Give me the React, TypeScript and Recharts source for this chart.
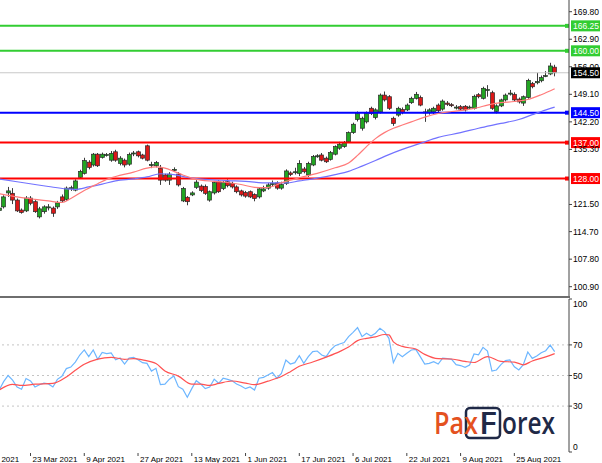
import React from "react";
import {
  ComposedChart,
  Bar,
  Line,
  XAxis,
  YAxis,
  ReferenceLine,
} from "recharts";

// daily bars, index 0 = 5 Mar 2021 (first visible bar is index 5)
const firstBar = 5;

const opens = [
  120.0, 120.9, 124.4, 124.3, 122.6, 120.1, 119.9, 123.1, 122.2, 118.4,
  119.7, 120.7, 120.6, 120.9, 123.4, 122.8, 125.5, 125.1, 128.3, 129.3,
  132.1, 131.4, 134.1, 133.3, 133.9, 132.6, 134.7, 131.8, 132.6, 131.6,
  134.3, 134.7, 133.9, 136.2, 131.3, 131.2, 130.6, 128.9, 127.6, 130.1,
  129.1, 122.4, 123.3, 123.9, 125.8, 126.1, 126.0, 122.6, 124.4, 127.2,
  125.5, 127.2, 126.8, 125.9, 124.9, 124.5, 124.7, 124.0, 123.4, 124.9,
  125.6, 126.5, 126.9, 125.6, 126.8, 129.4, 129.5, 129.3, 130.4, 128.9,
  131.4, 133.5, 133.9, 133.1, 132.8, 134.1, 135.6, 136.0, 137.2, 139.5,
  142.8, 140.6, 142.2, 145.6, 143.3, 144.7, 148.9, 148.5, 143.1, 143.9,
  145.3, 145.2, 147.0, 148.1, 148.3, 144.5, 144.5, 144.7, 146.4, 145.4,
  146.9, 146.5, 145.8, 146.0, 146.1, 145.7, 145.6, 149.0, 148.1, 150.1,
  149.5, 144.8, 146.2, 147.7, 149.2, 149.1, 147.9, 146.9, 148.3, 151.8,
  152.0, 152.5, 153.6, 154.2, 155.9,
];

const highs = [
  121.2, 123.8, 125.9, 125.6, 123.0, 120.5, 123.6, 123.6, 122.6, 120.9,
  121.3, 121.6, 121.0, 122.4, 124.0, 126.0, 126.2, 127.8, 130.2, 133.2,
  132.6, 134.4, 134.4, 134.5, 134.4, 134.9, 135.2, 133.6, 133.0, 134.5,
  134.9, 135.0, 134.2, 136.5, 132.2, 132.4, 131.4, 129.2, 129.6, 130.8,
  129.6, 125.9, 123.6, 124.8, 127.6, 126.5, 126.5, 125.0, 127.4, 127.6,
  127.4, 127.8, 127.2, 126.3, 125.2, 124.9, 125.0, 124.3, 125.8, 126.2,
  126.9, 127.5, 127.3, 127.2, 130.3, 129.8, 130.7, 132.6, 130.9, 132.2,
  133.9, 134.1, 134.4, 133.5, 134.9, 136.3, 137.2, 137.4, 139.8, 142.0,
  144.8, 143.5, 144.8, 146.0, 145.6, 149.3, 149.8, 148.9, 143.5, 146.0,
  145.8, 146.8, 148.5, 149.7, 148.8, 145.5, 145.6, 146.0, 146.8, 147.8,
  147.4, 146.9, 146.4, 146.4, 146.4, 146.3, 149.0, 149.4, 151.0, 151.4,
  150.0, 146.6, 148.0, 149.3, 150.2, 149.6, 148.3, 148.8, 153.0, 152.2,
  154.5, 153.8, 154.9, 157.0, 156.5,
];

const lows = [
  119.6, 120.5, 123.4, 121.6, 119.6, 119.2, 119.6, 121.3, 119.4, 118.0,
  119.2, 120.0, 118.4, 120.4, 122.0, 122.4, 124.9, 124.8, 128.0, 129.0,
  130.3, 131.0, 130.9, 133.0, 133.5, 132.2, 132.2, 131.3, 130.8, 131.2,
  133.6, 133.3, 132.8, 132.3, 130.6, 130.8, 126.4, 127.2, 126.4, 129.8,
  126.0, 122.1, 121.3, 123.6, 125.4, 124.6, 123.9, 122.2, 124.0, 124.4,
  125.1, 125.8, 125.5, 124.3, 123.5, 123.2, 123.1, 122.3, 123.0, 124.6,
  125.2, 126.0, 125.2, 125.2, 126.4, 128.6, 129.0, 128.6, 129.3, 128.4,
  131.1, 133.2, 132.3, 131.9, 132.5, 133.8, 135.2, 135.7, 136.9, 139.2,
  142.3, 140.0, 141.8, 143.9, 142.8, 144.3, 147.3, 145.2, 141.2, 143.5,
  144.1, 144.9, 146.7, 147.8, 146.1, 142.2, 144.0, 144.2, 144.6, 145.0,
  146.2, 145.9, 145.3, 145.0, 144.8, 145.4, 145.3, 148.1, 147.8, 148.5,
  145.2, 144.3, 145.9, 147.3, 148.8, 147.3, 146.8, 146.2, 148.0, 150.6,
  151.6, 152.1, 153.4, 153.9, 153.6,
];

const closes = [
  120.6, 123.4, 124.9, 122.6, 119.9, 119.5, 123.1, 121.8, 119.7, 120.4,
  120.9, 120.9, 119.3, 121.9, 122.4, 125.6, 125.7, 127.4, 129.8, 132.5,
  130.8, 134.1, 131.2, 134.1, 134.0, 134.3, 132.6, 133.1, 131.4, 134.0,
  134.4, 133.7, 133.1, 132.6, 131.5, 132.0, 127.6, 127.6, 129.1, 130.3,
  126.4, 125.5, 122.2, 124.4, 127.1, 125.0, 124.3, 124.7, 127.0, 124.7,
  127.0, 126.2, 125.9, 124.7, 123.9, 123.6, 123.4, 123.0, 125.4, 125.4,
  126.4, 126.8, 125.6, 126.5, 129.9, 129.0, 129.7, 131.8, 129.7, 131.8,
  133.5, 133.7, 132.6, 132.2, 134.5, 136.0, 136.6, 137.0, 139.5, 141.6,
  144.3, 143.1, 144.3, 144.3, 145.2, 148.9, 147.7, 145.6, 141.8, 145.6,
  144.5, 146.4, 148.1, 149.1, 146.4, 144.7, 145.2, 145.6, 145.0, 147.4,
  146.6, 146.4, 145.9, 145.4, 145.2, 145.9, 148.6, 148.5, 150.6, 150.3,
  145.6, 146.2, 147.7, 148.9, 149.4, 147.7, 147.2, 148.5, 152.6, 151.0,
  152.3, 153.3, 153.8, 156.2, 154.5,
];

// moving averages: [bar index, value]
const fastMa = [
  [5, 124.2], [9, 123.4], [13, 122.8], [16, 122.4], [19, 122.0], [21, 123.0],
  [24, 125.0], [27, 126.7], [29, 127.8], [31, 128.5], [35, 129.6], [38, 130.6],
  [40, 130.9], [42, 130.6], [44, 129.8], [46, 128.9], [48, 128.1], [50, 127.6],
  [53, 127.3], [56, 127.0], [59, 126.5], [62, 125.8], [64, 125.7], [66, 126.0],
  [68, 126.9], [70, 127.6], [72, 128.2], [76, 129.3], [80, 130.7], [83, 131.9],
  [85, 133.8], [87, 136.0], [89, 138.0], [91, 139.5], [93, 140.6], [95, 141.4],
  [97, 142.2], [100, 143.4], [103, 144.3], [106, 144.8], [109, 145.2], [112, 145.8],
  [114, 146.4], [117, 147.0], [120, 147.3], [123, 147.8], [126, 149.0], [129, 150.5],
];

const slowMa = [
  [5, 127.9], [9, 127.2], [13, 126.5], [16, 126.0], [20, 125.4], [22, 125.3],
  [25, 125.9], [28, 126.6], [31, 127.4], [35, 127.9], [38, 128.4], [41, 129.2],
  [44, 129.0], [47, 128.3], [51, 127.8], [56, 127.5], [60, 127.3], [65, 126.9],
  [69, 126.9], [72, 127.4], [76, 128.1], [80, 129.0], [83, 129.8], [86, 131.1],
  [89, 132.5], [92, 134.0], [95, 135.3], [99, 136.8], [103, 138.3], [108, 139.5],
  [112, 140.6], [117, 141.8], [121, 142.8], [124, 144.0], [126, 144.8], [129, 145.9],
];

const rsi = [
  40.5, 46, 50, 47, 42.5, 41, 48, 46.5, 42.5, 44,
  45, 44.5, 42.5, 47.5, 49.5, 54.5, 55.5, 58.8, 63.4, 66.7,
  62.3, 66.7, 60.6, 65.1, 64.3, 64.7, 60.3, 61.4, 57.5, 61.4,
  61.9, 60.3, 58.4, 57.9, 52.9, 54.7, 44.0, 44.4, 47.6, 49.7,
  42.7, 41.0, 35.8, 41.4, 46.6, 44.4, 41.4, 42.5, 47.6, 44.9,
  48.2, 47.5, 46.5, 44.4, 43.1, 41.4, 42.5, 40.5, 48.2, 48.8,
  50.3, 51.9, 48.2, 51.4, 60.1, 57.5, 58.4, 63.0, 58.0, 62.3,
  65.6, 66.0, 63.4, 62.3, 66.7, 69.5, 70.6, 71.5, 75.4, 78.2,
  81.3, 75.4, 77.6, 75.8, 77.6, 80.9, 78.7, 74.3, 58.4, 64.5,
  62.3, 64.5, 66.7, 67.1, 62.3, 57.5, 57.9, 59.0, 57.5, 61.4,
  61.0, 60.6, 57.1, 56.5, 55.3, 56.8, 64.1, 63.5, 68.4, 66.0,
  52.9, 53.6, 57.1, 59.7, 60.2, 55.7, 53.6, 57.1, 65.4, 61.2,
  62.7, 64.9, 66.2, 69.9, 65.6,
];

const rsiMa = [
  [5, 40.5], [8, 44.2], [10, 43.5], [13, 44.3], [17, 44.8], [20, 49.0],
  [22, 53.4], [24, 57.3], [27, 60.7], [30, 61.9], [33, 60.6], [35, 61.0],
  [37, 60.2], [40, 57.8], [42, 53.0], [45, 49.6], [48, 44.3], [50, 44.3],
  [52, 43.5], [54, 44.8], [57, 46.4], [60, 45.0], [62, 44.0], [65, 46.3],
  [68, 49.3], [70, 52.5], [72, 56.0], [75, 58.8], [78, 62.0], [81, 65.6],
  [83, 68.6], [85, 72.8], [87, 74.3], [89, 75.3], [91, 76.8], [92, 76.6],
  [93, 72.0], [95, 69.0], [98, 67.3], [100, 63.8], [103, 61.0], [106, 60.8],
  [109, 59.2], [111, 58.5], [114, 62.4], [117, 59.2], [120, 58.8], [122, 57.0],
  [124, 59.5], [127, 62.2], [129, 64.3],
];

const greenLevels = [166.25, 160.0];
const blueLevels = [144.5];
const redLevels = [137.0, 128.0];
const lastPrice = 154.5;

const priceTicks = [169.8, 162.9, 156.0, 149.1, 142.2, 135.3, 121.5, 114.7, 107.8, 100.9];
const rsiLevels = [70, 50, 30];
const rsiTicks = [100, 70, 50, 30, 0];

const dateTicks = [0, 12, 24, 36, 48, 60, 72, 84, 96, 108, 120];
const dateLabels = [
  "5 Mar 2021", "23 Mar 2021", "9 Apr 2021", "27 Apr 2021", "13 May 2021",
  "1 Jun 2021", "17 Jun 2021", "6 Jul 2021", "22 Jul 2021", "9 Aug 2021",
  "25 Aug 2021",
];

const FONT = "'Liberation Sans', Arial, sans-serif";
const X_DOMAIN: [number, number] = [5.19, 132.2];

const fastMap = new Map(fastMa.map(([i, v]) => [i, v]));
const slowMap = new Map(slowMa.map(([i, v]) => [i, v]));
const rsiMaMap = new Map(rsiMa.map(([i, v]) => [i, v]));

const rows = opens.map((o, k) => {
  const i = firstBar + k;
  return {
    i,
    open: o,
    high: highs[k],
    low: lows[k],
    close: closes[k],
    range: [lows[k], highs[k]],
    fast: fastMap.get(i) ?? null,
    slow: slowMap.get(i) ?? null,
    rsi: rsi[k],
    rsiMa: rsiMaMap.get(i) ?? null,
  };
});

function Candle(props: any) {
  const { x, y, width, height, payload } = props;
  if (x == null || y == null || !payload) return null;
  const { open, close, high, low } = payload;
  const top = Math.min(y, y + height);
  const bot = Math.max(y, y + height);
  const span = high - low || 1;
  const py = (v: number) => top + ((high - v) / span) * (bot - top);
  const cx = Math.round(x + width / 2) + 0.5;
  const up = close >= open;
  const bt = py(Math.max(open, close));
  const bb = py(Math.min(open, close));
  const h = Math.max(bb - bt, 1);
  return (
    <g>
      <line x1={cx} x2={cx} y1={top} y2={bot} stroke="#3c3c3c" strokeWidth={1} />
      <rect
        x={cx - 2}
        y={bt}
        width={4}
        height={h}
        fill={up ? "#22a522" : "#dc1818"}
        stroke="#2a2a2a"
        strokeWidth={0.7}
      />
    </g>
  );
}

function LevelTag(props: any) {
  const { viewBox, text, bg, marker } = props;
  if (!viewBox) return null;
  const right = viewBox.x + viewBox.width;
  const cy = viewBox.y;
  return (
    <g>
      {marker && <rect x={right - 4} y={cy - 2} width={4} height={4} fill={bg} />}
      <rect x={right + 2} y={cy - 5.5} width={29} height={11} fill={bg} />
      <text
        x={right + 4}
        y={cy + 3.3}
        fill="#fff"
        fontSize={8.5}
        fontFamily={FONT}
      >
        {text}
      </text>
    </g>
  );
}

function RsiTick(props: any) {
  const { x, y, payload } = props;
  const v = payload.value;
  const dy = v === 100 ? 5 : v === 0 ? -5 : 0;
  return (
    <text x={x} y={y + dy + 3} fontSize={8.5} fontFamily={FONT} fill="#000" textAnchor="start">
      {v}
    </text>
  );
}

function DateTick(props: any) {
  const { x, payload } = props;
  const idx = dateTicks.indexOf(payload.value);
  return (
    <g>
      <line x1={x} x2={x} y1={156} y2={159} stroke="#444" />
      <text x={x + 2} y={164.5} fontSize={8} fontFamily={FONT} fill="#000">
        {dateLabels[idx]}
      </text>
    </g>
  );
}

function PriceTick(props: any) {
  const { x, y, payload } = props;
  return (
    <text x={x} y={y + 3} fontSize={8.5} fontFamily={FONT} fill="#000" textAnchor="start">
      {payload.value.toFixed(2)}
    </text>
  );
}

export default function App() {
  return (
    <div
      style={{
        position: "absolute",
        left: 0,
        top: 0,
        width: 602,
        height: 463,
        background: "#fff",
        overflow: "hidden",
      }}
    >
      <div style={{ position: "absolute", left: 0, top: 0 }}>
        <ComposedChart
          width={602}
          height={296}
          data={rows}
          margin={{ top: 0, right: 0, bottom: 0, left: 0 }}
        >
          <XAxis dataKey="i" type="number" domain={X_DOMAIN} allowDataOverflow hide />
          <YAxis
            orientation="right"
            width={33}
            domain={[98.57, 172.73]}
            allowDataOverflow
            ticks={priceTicks}
            interval={0}
            tickSize={3}
            tickMargin={1}
            stroke="#444"
            tick={<PriceTick />}
          />
          <ReferenceLine
            y={lastPrice}
            stroke="#c8c8c8"
            strokeWidth={1}
            label={<LevelTag text={lastPrice.toFixed(2)} bg="#000" />}
          />
          {greenLevels.map((v) => (
            <ReferenceLine
              key={"g" + v}
              y={v}
              stroke="#32cd32"
              strokeWidth={2}
              label={<LevelTag text={v.toFixed(2)} bg="#32cd32" marker />}
            />
          ))}
          {blueLevels.map((v) => (
            <ReferenceLine
              key={"b" + v}
              y={v}
              stroke="#0000ff"
              strokeWidth={2}
              label={<LevelTag text={v.toFixed(2)} bg="#0000ff" marker />}
            />
          ))}
          {redLevels.map((v) => (
            <ReferenceLine
              key={"r" + v}
              y={v}
              stroke="#ff0000"
              strokeWidth={2}
              label={<LevelTag text={v.toFixed(2)} bg="#ff0000" marker />}
            />
          ))}
          <Bar dataKey="range" barSize={4} shape={<Candle />} isAnimationActive={false} />
          <Line
            dataKey="slow"
            type="monotone"
            stroke="#7272ff"
            strokeWidth={1.2}
            dot={false}
            connectNulls
            isAnimationActive={false}
          />
          <Line
            dataKey="fast"
            type="monotone"
            stroke="#ff7a7a"
            strokeWidth={1.2}
            dot={false}
            connectNulls
            isAnimationActive={false}
          />
        </ComposedChart>
      </div>

      <div
        style={{
          position: "absolute",
          left: 0,
          top: 296,
          width: 570,
          height: 2,
          background: "#6e6e6e",
        }}
      />

      <div style={{ position: "absolute", left: 0, top: 297 }}>
        <ComposedChart
          width={602}
          height={166}
          data={rows}
          margin={{ top: 2, right: 0, bottom: 0, left: 0 }}
        >
          <XAxis
            dataKey="i"
            type="number"
            domain={X_DOMAIN}
            allowDataOverflow
            ticks={dateTicks}
            interval={0}
            height={11}
            axisLine={false}
            tickLine={false}
            tick={<DateTick />}
          />
          <YAxis
            orientation="right"
            width={33}
            domain={[0, 100]}
            ticks={rsiTicks}
            interval={0}
            tickSize={3}
            tickMargin={1}
            stroke="#444"
            tick={<RsiTick />}
          />
          {rsiLevels.map((v) => (
            <ReferenceLine key={v} y={v} stroke="#c4c4c4" strokeDasharray="2 3" />
          ))}
          <Line
            dataKey="rsi"
            type="linear"
            stroke="#6db6ff"
            strokeWidth={1.2}
            dot={false}
            isAnimationActive={false}
          />
          <Line
            dataKey="rsiMa"
            type="monotone"
            stroke="#ff5252"
            strokeWidth={1.2}
            dot={false}
            connectNulls
            isAnimationActive={false}
          />
        </ComposedChart>
      </div>

      <svg
        width={602}
        height={463}
        style={{ position: "absolute", left: 0, top: 0, pointerEvents: "none" }}
      >
        <rect x={466} y={408} width={34} height={30} rx={4} fill="#fff" stroke="#1f2947" strokeWidth={2.5} />
        <text
          x={434}
          y={434}
          fontSize={30}
          fontWeight={600}
          fontFamily="'Open Sans', sans-serif"
          fill="#e4521f"
          textLength={44}
          lengthAdjust="spacingAndGlyphs"
        >
          Pax
        </text>
        <text
          x={479}
          y={434}
          fontSize={30}
          fontWeight={600}
          fontFamily="'Open Sans', sans-serif"
          fill="#1f2947"
          textLength={18}
          lengthAdjust="spacingAndGlyphs"
        >
          F
        </text>
        <text
          x={502}
          y={434}
          fontSize={30}
          fontWeight={600}
          fontFamily="'Open Sans', sans-serif"
          fill="#1f2947"
          textLength={53}
          lengthAdjust="spacingAndGlyphs"
        >
          orex
        </text>
      </svg>
    </div>
  );
}
